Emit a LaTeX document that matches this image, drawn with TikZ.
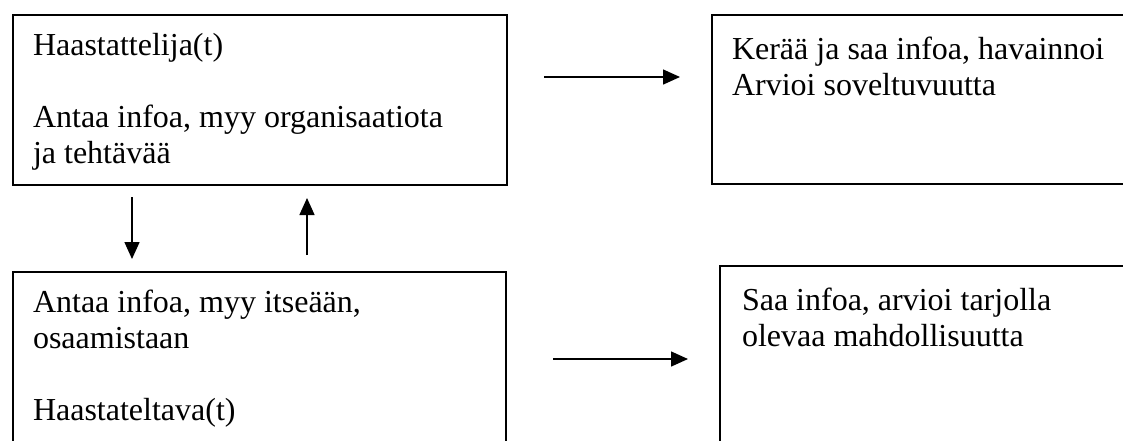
\documentclass[tikz,border=0pt]{standalone}
\usepackage{fontspec}
\setmainfont{Liberation Serif}
\usepackage{tikz}
\usetikzlibrary{arrows.meta, positioning}
\newcommand{\panelbody}[4]{\parbox[t][#1][t]{#2}{\vspace*{#3}\strut #4}}
\tikzset{
    panel/.style={draw=black, line width=2pt, anchor=north west, inner xsep=20pt, inner ysep=0pt, font=\fontsize{32}{35.7}\selectfont},
    arr/.style={-{Triangle[length=17pt, width=15pt]}, line width=1.5pt, draw=black}
}
\begin{document}
\begin{tikzpicture}[x=1pt, y=-1pt]
    \useasboundingbox (0,0) rectangle (1123,440);
    \clip (0,0) rectangle (1123,440);

    \node[panel] (interviewer) at (12,14) {
      \panelbody{170pt}{454pt}{16pt}{Haastattelija(t)\\[35.7pt]Antaa infoa, myy organisaatiota\\ja tehtävää}
    };

    \node[panel, right=203pt of interviewer.north east, anchor=north west] (evaluation) {
      \panelbody{169pt}{460pt}{20pt}{Kerää ja saa infoa, havainnoi\\Arvioi soveltuvuutta}
    };

    \node[panel, below=85pt of interviewer.south west, anchor=north west] (applicant) {
      \panelbody{250pt}{453pt}{16pt}{Antaa infoa, myy itseään,\\osaamistaan\\[35.7pt]Haastateltava(t)}
    };

    \node[panel, inner xsep=22pt, right=212pt of applicant.north east, yshift=6pt, anchor=north west] (offer) {
      \panelbody{250pt}{456pt}{20pt}{Saa infoa, arvioi tarjolla\\olevaa mahdollisuutta}
    };

    \draw[arr] ([shift={(36pt,-63pt)}]interviewer.north east) -- ([shift={(-31pt,-63pt)}]evaluation.north west);
    \draw[arr] ([shift={(46pt,-88pt)}]applicant.north east) -- ([shift={(-31pt,-94pt)}]offer.north west);
    \draw[arr] ([shift={(120pt,-11pt)}]interviewer.south west) -- ([shift={(120pt,12pt)}]applicant.north west);
    \draw[arr] ([shift={(295pt,16pt)}]applicant.north west) -- ([shift={(295pt,-12pt)}]interviewer.south west);
  \end{tikzpicture}
\end{document}
